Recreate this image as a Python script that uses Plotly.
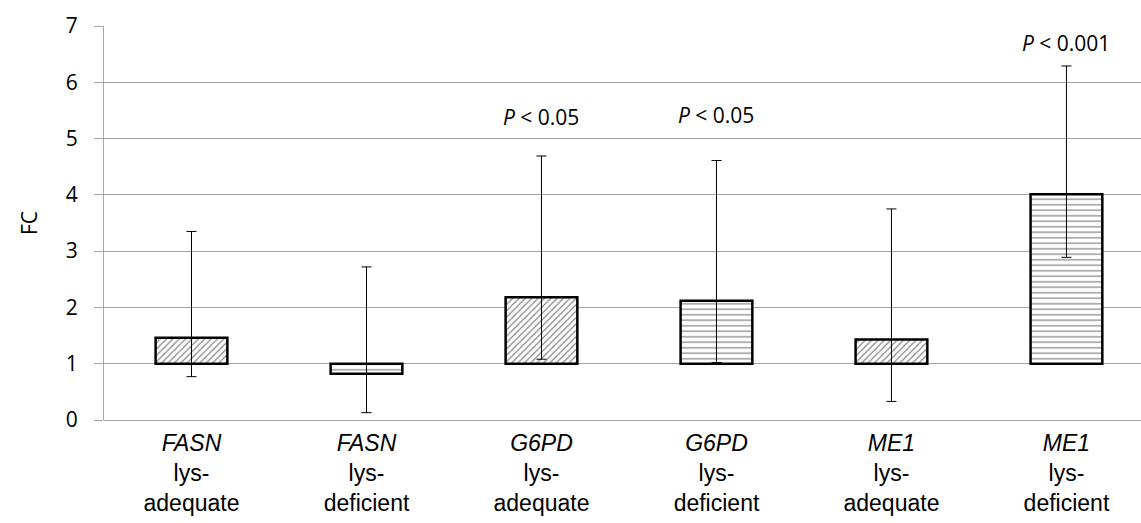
import plotly.graph_objects as go

# Fold-change summary per gene and lysine condition
genes = ["FASN", "FASN", "G6PD", "G6PD", "ME1", "ME1"]
conditions = ["adequate", "deficient", "adequate", "deficient", "adequate", "deficient"]
fc_values = [1.46, 0.82, 2.18, 2.12, 1.43, 4.01]
fc_upper = [3.35, 2.72, 4.69, 4.61, 3.75, 6.29]
fc_lower = [0.77, 0.13, 1.08, 1.02, 0.33, 2.89]
p_labels = ["", "", "<i>P</i> < 0.05", "<i>P</i> < 0.05", "", "<i>P</i> < 0.001"]
baseline = 1.0

x_pos = list(range(len(genes)))
tick_text = [f"<i>{g}</i><br>lys-<br>{c}" for g, c in zip(genes, conditions)]

# Diagonal hatch for lys-adequate, horizontal rows for lys-deficient
shapes = ["/" if c == "adequate" else "-" for c in conditions]
fg = ["#1a1a1a" if c == "adequate" else "#4a4a4a" for c in conditions]
psize = [4.5 if c == "adequate" else 5.5 for c in conditions]

fig = go.Figure()

fig.add_trace(go.Bar(
    x=x_pos,
    y=[v - baseline for v in fc_values],
    base=baseline,
    width=0.41,
    marker=dict(
        color="white",
        line=dict(color="black", width=2.5),
        pattern=dict(shape=shapes, fgcolor=fg, bgcolor="white",
                     size=psize, solidity=0.3),
    ),
    showlegend=False,
    hoverinfo="skip",
))

fig.add_trace(go.Scatter(
    x=x_pos,
    y=fc_values,
    mode="markers",
    marker=dict(size=0.1, color="black", opacity=0),
    error_y=dict(
        type="data",
        symmetric=False,
        array=[u - v for u, v in zip(fc_upper, fc_values)],
        arrayminus=[v - l for v, l in zip(fc_values, fc_lower)],
        color="black",
        thickness=1,
        width=5,
    ),
    showlegend=False,
    hoverinfo="skip",
))

label_y = [None, None, 5.38, 5.41, None, 6.70]
for xi, txt, ly in zip(x_pos, p_labels, label_y):
    if txt:
        fig.add_annotation(x=xi, y=ly, text=txt, showarrow=False,
                           font=dict(family="Open Sans", size=21, color="black"),
                           xanchor="center", yanchor="middle")

fig.update_layout(
    width=1141, height=523,
    margin=dict(l=104, r=0, t=26, b=103),
    paper_bgcolor="white", plot_bgcolor="white",
    bargap=0.5,
)

fig.update_xaxes(
    range=[-0.5, 5.426],
    tickmode="array", tickvals=x_pos, ticktext=tick_text,
    tickfont=dict(family="Liberation Sans", size=23, color="black"),
    ticklabelstandoff=7,
    showgrid=False, zeroline=False, showline=False, ticks="",
    fixedrange=True,
)

fig.update_yaxes(
    range=[0, 7], dtick=1,
    showgrid=True, gridcolor="#a6a6a6", gridwidth=1,
    zeroline=True, zerolinecolor="#a6a6a6", zerolinewidth=1,
    showline=True, linecolor="#a6a6a6", linewidth=1,
    ticks="outside", ticklen=9, tickcolor="#a6a6a6",
    ticklabelstandoff=12,
    tickfont=dict(family="Open Sans", size=21, color="black"),
    title=dict(text="FC", font=dict(family="Open Sans", size=21, color="black"), standoff=22),
    fixedrange=True,
)

fig.write_html("out.html")
